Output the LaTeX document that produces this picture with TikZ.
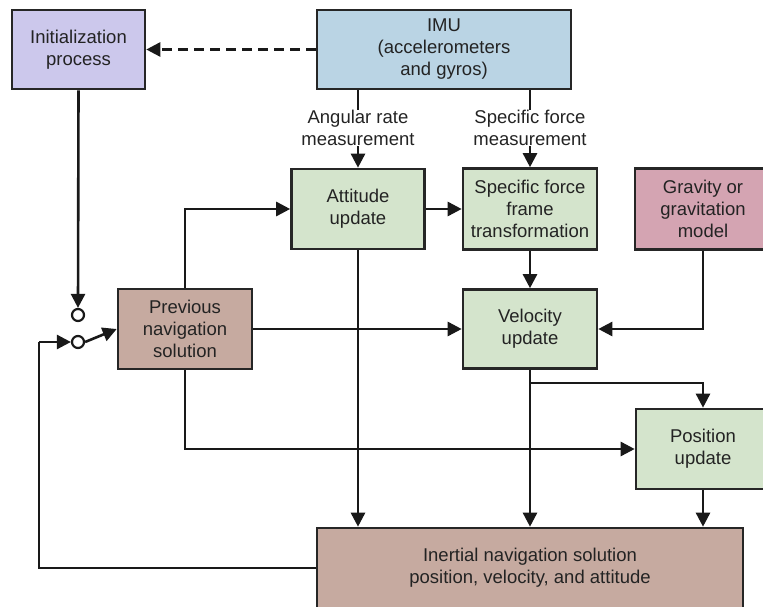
\documentclass[tikz,border=0pt]{standalone}
\usepackage{fontspec}
\setmainfont{Liberation Sans}
\usetikzlibrary{arrows.meta}
\definecolor{cinit}{RGB}{204,200,236}
\definecolor{cimu}{RGB}{186,212,228}
\definecolor{cgreen}{RGB}{212,228,204}
\definecolor{cgrav}{RGB}{212,164,178}
\definecolor{cbrown}{RGB}{198,170,160}
\definecolor{ctext}{RGB}{35,35,35}
\begin{document}
\begin{tikzpicture}[x=1pt,y=-1pt,
  box/.style={draw=black!85, line width=2.6pt, rectangle, inner sep=0pt, align=center,
    text=ctext, font=\fontsize{18.5}{22}\selectfont},
  lbl/.style={align=center, text=ctext, font=\fontsize{18.5}{22}\selectfont, inner sep=0pt},
  conn/.style={draw=black!90, line width=2.6pt},
  arr/.style={conn, -{Triangle[length=14pt,width=14pt]}},
  sw/.style={circle, draw=black!90, line width=2.2pt, fill=white, minimum size=12pt, inner sep=0pt}]
\useasboundingbox (0,0) rectangle (763,607);
\clip (0,0) rectangle (763,607);
% nodes
\node[box, fill=cinit, minimum width=133pt, minimum height=79pt] (init) at (78.5,49.5) {Initialization\\process};
\node[box, fill=cimu, minimum width=254pt, minimum height=79pt] (imu) at (444,49.5) {IMU\\(accelerometers\\and gyros)};
\node[box, fill=cgreen, minimum width=133pt, minimum height=80pt] (att) at (358,209) {Attitude\\update};
\node[box, fill=cgreen, minimum width=134pt, minimum height=81pt] (sf) at (530,209) {Specific force\\frame\\transformation};
\node[box, fill=cgrav, minimum width=136pt, minimum height=81pt] (grav) at (703,209) {Gravity or\\gravitation\\model};
\node[box, fill=cgreen, minimum width=134pt, minimum height=79pt] (vel) at (530,329) {Velocity\\update};
\node[box, fill=cbrown, minimum width=134pt, minimum height=80pt] (prev) at (185,329) {Previous\\navigation\\solution};
\node[box, fill=cgreen, minimum width=134pt, minimum height=80pt] (pos) at (703,449) {Position\\update};
\node[box, fill=cbrown, minimum width=426pt, minimum height=80pt] (ins) at (530,568) {Inertial navigation solution\\position, velocity, and attitude};
\node[lbl] (angl) at (358,128) {Angular rate\\measurement};
\node[lbl] (sfl) at (530,128) {Specific force\\measurement};
\node[sw] (swa) at (78,315) {};
\node[sw] (swb) at (78,342) {};
\coordinate (fbl) at (39,568);
\coordinate (fbt) at (39,342);
% connectors
\draw[arr, dash pattern=on 10pt off 6pt] (imu.west) -- (init.east);
\draw[arr] (init.south) -- (swa.north);
\draw[conn] (imu.south -| angl) -- (angl.north);
\draw[arr] (angl.south) -- (att.north);
\draw[conn] (imu.south -| sfl) -- (sfl.north);
\draw[arr] (sfl.south) -- (sf.north);
\draw[arr] (att.east) -- (sf.west);
\draw[arr] (sf.south) -- (vel.north);
\draw[arr] (grav.south) |- (vel.east);
\draw[arr] (prev.east) -- (vel.west);
\draw[arr] (prev.north) |- (att.west);
\draw[arr] (prev.south) |- (pos.west);
\draw[arr] (att.south) -- (att.south |- ins.north);
\draw[arr] (vel.south) -- (vel.south |- ins.north);
\draw[arr] (vel.south |- 0,383) -| (pos.north);
\draw[arr] (pos.south) -- (pos.south |- ins.north);
\draw[conn] (ins.west |- fbl) -- (fbl) -- (fbt);
\draw[arr] (fbt) -- (swb.west);
\draw[arr] (swb.east) -- (prev.west);
\end{tikzpicture}
\end{document}
